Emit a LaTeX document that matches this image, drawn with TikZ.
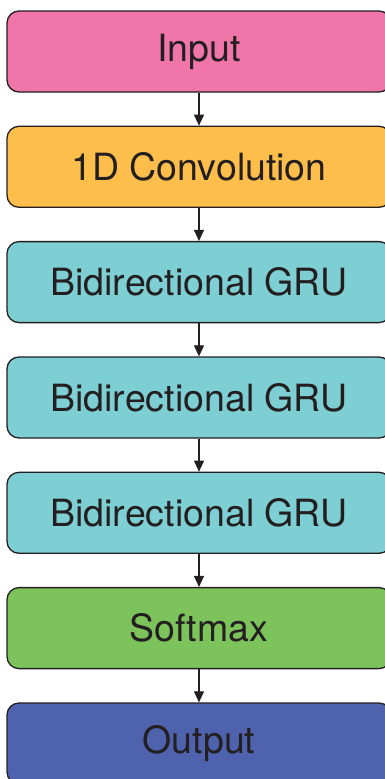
\documentclass[tikz,border=0pt]{standalone}
\usepackage{fontspec}
\setmainfont{TeX Gyre Heros}
\usetikzlibrary{arrows.meta}
\definecolor{cpink}{RGB}{240,118,170}
\definecolor{corange}{RGB}{253,190,75}
\definecolor{cteal}{RGB}{126,207,212}
\definecolor{cgreen}{RGB}{125,195,92}
\definecolor{cblue}{RGB}{79,98,174}
\definecolor{ctext}{RGB}{35,31,32}
\tikzset{
  layer/.style={draw=ctext, line width=1.3pt, rounded corners=12pt,
    minimum width=384pt, minimum height=81pt, inner sep=0pt,
    font=\fontsize{37.5}{42}\selectfont, text=ctext},
  flow/.style={draw=ctext, line width=1.2pt, -{Triangle[width=10pt,length=11pt]}}
}
\begin{document}
\begin{tikzpicture}[x=1pt,y=1pt]
\useasboundingbox (0,0) rectangle (385,-779);
\clip (0,0) rectangle (385,-779);
\node[layer, fill=cpink]   (in)   at (199,-51.5)  {Input};
\node[layer, fill=corange] (conv) at (199,-166.8) {1D Convolution};
\node[layer, fill=cteal]   (g1)   at (199,-282.1) {Bidirectional GRU};
\node[layer, fill=cteal]   (g2)   at (199,-397.5) {Bidirectional GRU};
\node[layer, fill=cteal]   (g3)   at (199,-512.8) {Bidirectional GRU};
\node[layer, fill=cgreen]  (sm)   at (199,-628.1) {Softmax};
\node[layer, fill=cblue]   (out)  at (199,-743.5) {Output};
\draw[flow] (in) -- (conv);
\draw[flow] (conv) -- (g1);
\draw[flow] (g1) -- (g2);
\draw[flow] (g2) -- (g3);
\draw[flow] (g3) -- (sm);
\draw[flow] (sm) -- (out);
\end{tikzpicture}
\end{document}
